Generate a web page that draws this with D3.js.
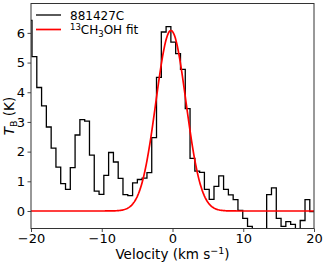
<!DOCTYPE html>
<html>
<head>
<meta charset="utf-8">
<script src="https://cdn.jsdelivr.net/npm/d3@7"></script>
<style>
  body { margin: 0; background: #fff; }
  svg { display: block; font-family: "DejaVu Sans", sans-serif; }
</style>
</head>
<body>
<svg id="chart" width="327" height="267"></svg>
<script>
// channel centres (km/s) and brightness temperature (K) of the spectrum
var velocity = [-20.20, -19.52, -18.84, -18.17, -17.49, -16.81, -16.14, -15.46, -14.78, -14.11,
  -13.43, -12.75, -12.07, -11.40, -10.72, -10.04, -9.37, -8.69, -8.01, -7.34,
  -6.66, -5.98, -5.30, -4.63, -3.95, -3.27, -2.60, -1.92, -1.24, -0.57,
  0.11, 0.79, 1.47, 2.14, 2.82, 3.50, 4.17, 4.85, 5.53, 6.20,
  6.88, 7.56, 8.24, 8.91, 9.59, 10.27, 10.94, 11.62, 12.30, 12.97,
  13.65, 14.33, 15.01, 15.68, 16.36, 17.04, 17.71, 18.39, 19.07, 19.74, 20.42];
var tb = [6.42, 5.20, 4.16, 3.54, 2.83, 2.12, 1.48, 0.92, 0.73, 1.46,
  2.56, 3.08, 3.03, 1.88, 0.67, 0.56, 1.20, 1.97, 1.65, 1.10,
  0.55, 0.52, 0.95, 1.06, 1.11, 1.29, 2.47, 4.50, 6.03, 6.21,
  5.69, 5.30, 4.77, 3.45, 1.77, 1.34, 1.30, 0.73, 0.39, 0.83,
  1.18, 0.73, 0.54, 0.38, 0.02, -0.25, -0.52, -0.90, -1.10, -0.80,
  0.55, 0.78, -0.25, -0.52, -0.36, -0.45, -0.70, -0.32, 0.38, -0.02, 0.00];

// gaussian fit parameters: amplitude (K), centre and sigma (km/s)
var fitAmp = 6.08;
var fitCenter = -0.22;
var fitSigma = 2.12;

var xTicks = [-20, -10, 0, 10, 20];
var yTicks = [0, 1, 2, 3, 4, 5, 6];
var xDomain = [-20, 20];
var yDomain = [-0.59, 6.99];

var margin = {top: 3.5, right: 13, bottom: 38.5, left: 31};
var w = 327, h = 267;
var iw = w - margin.left - margin.right;
var ih = h - margin.top - margin.bottom;

var svg = d3.select("#chart");
var g = svg.append("g").attr("transform", "translate(" + margin.left + "," + margin.top + ")");

var x = d3.scaleLinear().domain(xDomain).range([0, iw]);
var y = d3.scaleLinear().domain(yDomain).range([ih, 0]);

g.append("clipPath").attr("id", "clip")
  .append("rect").attr("width", iw).attr("height", ih);

var data = velocity.map(function(v, i) { return [v, tb[i]]; });

var fit = d3.range(0, 401).map(function(i) {
  var v = xDomain[0] + i * (xDomain[1] - xDomain[0]) / 400;
  return [v, fitAmp * Math.exp(-Math.pow(v - fitCenter, 2) / (2 * fitSigma * fitSigma))];
});

var line = d3.line()
  .x(function(d) { return x(d[0]); })
  .y(function(d) { return y(d[1]); });

var plot = g.append("g").attr("clip-path", "url(#clip)");

plot.append("path")
  .datum(data)
  .attr("fill", "none")
  .attr("stroke", "#000")
  .attr("stroke-width", 1.3)
  .attr("d", line.curve(d3.curveStep));

plot.append("path")
  .datum(fit)
  .attr("fill", "none")
  .attr("stroke", "#ff0000")
  .attr("stroke-width", 1.7)
  .attr("d", line.curve(d3.curveLinear));

// axes
var xAxis = g.append("g")
  .attr("transform", "translate(0," + ih + ")")
  .call(d3.axisBottom(x).tickValues(xTicks).tickSize(3.5).tickPadding(1.5));
var yAxis = g.append("g")
  .call(d3.axisLeft(y).tickValues(yTicks).tickSize(3.5).tickPadding(2.5));

[xAxis, yAxis].forEach(function(a) {
  a.select(".domain").remove();
  a.selectAll("line").attr("stroke", "#333").attr("stroke-width", 0.9);
  a.selectAll("text").attr("font-size", 13).attr("fill", "#000")
    .attr("font-family", "DejaVu Sans");
});

g.append("rect")
  .attr("width", iw).attr("height", ih)
  .attr("fill", "none")
  .attr("stroke", "#333")
  .attr("stroke-width", 1);

// axis labels
var xl = svg.append("text")
  .attr("x", margin.left + iw / 2)
  .attr("y", 258.5)
  .attr("text-anchor", "middle")
  .attr("font-size", 13.5);
xl.append("tspan").text("Velocity (km s");
xl.append("tspan").attr("dy", -5).attr("font-size", 9.5).text("\u22121");
xl.append("tspan").attr("dy", 5).text(")");

var yl = svg.append("text")
  .attr("transform", "translate(14," + (margin.top + ih / 2) + ") rotate(-90)")
  .attr("text-anchor", "middle")
  .attr("font-size", 13.5);
yl.append("tspan").attr("font-style", "italic").text("T");
yl.append("tspan").attr("dy", 3).attr("font-size", 9.5).text("B");
yl.append("tspan").attr("dy", -3).text(" (K)");

// legend
var legend = svg.append("g").attr("transform", "translate(36,0)");
legend.append("line").attr("x1", 0).attr("x2", 25).attr("y1", 15).attr("y2", 15)
  .attr("stroke", "#000").attr("stroke-width", 1.3);
legend.append("line").attr("x1", 0).attr("x2", 25).attr("y1", 29.5).attr("y2", 29.5)
  .attr("stroke", "#ff0000").attr("stroke-width", 1.7);
legend.append("text").attr("x", 34).attr("y", 19.5).attr("font-size", 12).text("881427C");
var lt = legend.append("text").attr("x", 34).attr("y", 34).attr("font-size", 12);
lt.append("tspan").attr("dy", -4).attr("font-size", 8.5).text("13");
lt.append("tspan").attr("dy", 4).text("CH");
lt.append("tspan").attr("dy", 3).attr("font-size", 8.5).text("3");
lt.append("tspan").attr("dy", -3).text("OH fit");
</script>
</body>
</html>
